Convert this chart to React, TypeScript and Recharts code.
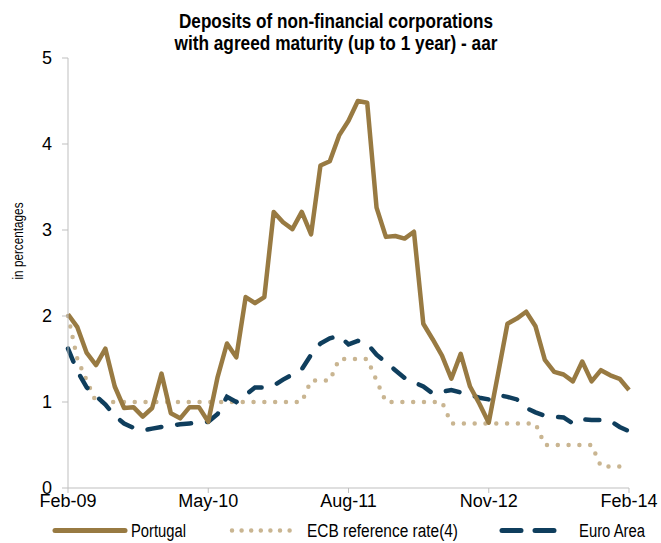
import React from 'react';
import { LineChart, Line, XAxis, YAxis, Legend } from 'recharts';

// monthly observations, Feb-09 .. Feb-14
const months = [
  'Feb-09', 'Mar-09', 'Apr-09', 'May-09', 'Jun-09', 'Jul-09', 'Aug-09', 'Sep-09', 'Oct-09', 'Nov-09', 'Dec-09',
  'Jan-10', 'Feb-10', 'Mar-10', 'Apr-10', 'May-10', 'Jun-10', 'Jul-10', 'Aug-10', 'Sep-10', 'Oct-10', 'Nov-10', 'Dec-10',
  'Jan-11', 'Feb-11', 'Mar-11', 'Apr-11', 'May-11', 'Jun-11', 'Jul-11', 'Aug-11', 'Sep-11', 'Oct-11', 'Nov-11', 'Dec-11',
  'Jan-12', 'Feb-12', 'Mar-12', 'Apr-12', 'May-12', 'Jun-12', 'Jul-12', 'Aug-12', 'Sep-12', 'Oct-12', 'Nov-12', 'Dec-12',
  'Jan-13', 'Feb-13', 'Mar-13', 'Apr-13', 'May-13', 'Jun-13', 'Jul-13', 'Aug-13', 'Sep-13', 'Oct-13', 'Nov-13', 'Dec-13',
  'Jan-14', 'Feb-14',
];

const portugal = [
  2.02, 1.87, 1.57, 1.43, 1.62, 1.18, 0.93, 0.94, 0.83, 0.93,
  1.33, 0.87, 0.81, 0.94, 0.94, 0.77, 1.29, 1.68, 1.52, 2.22,
  2.15, 2.22, 3.21, 3.09, 3.01, 3.21, 2.95, 3.75, 3.8, 4.1,
  4.27, 4.5, 4.48, 3.26, 2.92, 2.93, 2.9, 2.98, 1.91, 1.73,
  1.54, 1.27, 1.56, 1.18, 0.98, 0.76, 1.33, 1.91, 1.97, 2.05,
  1.88, 1.49, 1.35, 1.32, 1.24, 1.47, 1.24, 1.37, 1.31, 1.27, 1.14,
];

const ecbRate = [
  2.0, 1.5, 1.25, 1.0, 1.0, 1.0, 1.0, 1.0, 1.0, 1.0,
  1.0, 1.0, 1.0, 1.0, 1.0, 1.0, 1.0, 1.0, 1.0, 1.0,
  1.0, 1.0, 1.0, 1.0, 1.0, 1.0, 1.25, 1.25, 1.25, 1.5,
  1.5, 1.5, 1.5, 1.25, 1.0, 1.0, 1.0, 1.0, 1.0, 1.0,
  1.0, 0.75, 0.75, 0.75, 0.75, 0.75, 0.75, 0.75, 0.75, 0.75,
  0.75, 0.5, 0.5, 0.5, 0.5, 0.5, 0.5, 0.25, 0.25, 0.25, 0.25,
];

const euroArea = [
  1.62, 1.36, 1.17, 1.07, 0.97, 0.84, 0.75, 0.7, 0.67, 0.69,
  0.71, 0.73, 0.74, 0.75, 0.76, 0.77, 0.86, 1.06, 1.0, 1.08,
  1.17, 1.17, 1.19, 1.26, 1.32, 1.38, 1.55, 1.68, 1.74, 1.77,
  1.67, 1.71, 1.68, 1.55, 1.46, 1.37, 1.28, 1.23, 1.18, 1.1,
  1.12, 1.14, 1.11, 1.08, 1.05, 1.03, 1.08, 1.06, 1.03, 0.93,
  0.88, 0.84, 0.83, 0.82, 0.75, 0.8, 0.79, 0.79, 0.78, 0.71, 0.66,
];

const yTicks = [0, 1, 2, 3, 4, 5];

const data = months.map((m, i) => ({
  month: m,
  portugal: portugal[i],
  ecb: ecbRate[i],
  euro: euroArea[i],
}));

const GOLD = '#987a42';
const TAN = '#c9b591';
const NAVY = '#0f3e5d';
const AXIS = '#bfbfbf';
const ARIAL = '"Liberation Sans", Arial, sans-serif';

// no narrow face installed, so condensed texts are squeezed with textLength
function LegendBox() {
  const txt = { fontFamily: ARIAL, fontSize: 18, fill: '#000', lengthAdjust: 'spacingAndGlyphs' as const };
  return (
    <svg width={661} height={25} style={{ display: 'block' }}>
      <line x1={55} y1={12.5} x2={125} y2={12.5} stroke={GOLD} strokeWidth={5} strokeLinecap="round" />
      <text x={131} y={19} textLength={55} {...txt}>Portugal</text>
      <line x1={232} y1={12.5} x2={290} y2={12.5} stroke={TAN} strokeWidth={4.5} strokeLinecap="round" strokeDasharray="0 9.6" />
      <text x={307} y={19} textLength={151} {...txt}>ECB reference rate(4)</text>
      <line x1={502} y1={12.5} x2={555} y2={12.5} stroke={NAVY} strokeWidth={5} strokeLinecap="round" strokeDasharray="19 14" />
      <text x={579} y={19} textLength={66} {...txt}>Euro Area</text>
    </svg>
  );
}

export default function App() {
  return (
    <div style={{ position: 'absolute', left: 0, top: 0, width: 661, height: 543, background: '#fff', fontFamily: ARIAL }}>
      <svg width={661} height={60} style={{ position: 'absolute', left: 0, top: 0 }}>
        <g fontFamily={ARIAL} fontWeight="bold" fontSize={20} fill="#000" textAnchor="middle">
          <text x={336} y={28} textLength={314} lengthAdjust="spacingAndGlyphs">Deposits of non-financial corporations</text>
          <text x={336} y={50} textLength={323} lengthAdjust="spacingAndGlyphs">with agreed maturity (up to 1 year) - aar</text>
        </g>
      </svg>
      <svg width={40} height={543} style={{ position: 'absolute', left: 0, top: 0 }}>
        <text
          transform="translate(23 241) rotate(-90)"
          textAnchor="middle"
          fontFamily={ARIAL}
          fontSize={15}
          fill="#000"
          textLength={77}
          lengthAdjust="spacingAndGlyphs"
        >
          in percentages
        </text>
      </svg>
      <LineChart width={661} height={543} data={data} margin={{ top: 58, right: 32, bottom: 0, left: 8 }}>
        <XAxis
          dataKey="month"
          interval={14}
          height={30}
          tickSize={5}
          tickMargin={1}
          axisLine={{ stroke: AXIS }}
          tickLine={{ stroke: AXIS }}
          tick={{ fill: '#000', fontSize: 18, fontFamily: ARIAL }}
        />
        <YAxis
          domain={[0, 5]}
          ticks={yTicks}
          interval={0}
          width={60}
          tickSize={6}
          tickMargin={10}
          axisLine={{ stroke: AXIS }}
          tickLine={{ stroke: AXIS }}
          tick={{ fill: '#000', fontSize: 18, fontFamily: ARIAL }}
        />
        <Legend
          verticalAlign="bottom"
          height={25}
          wrapperStyle={{ left: 0, width: 661 }}
          content={() => <LegendBox />}
        />
        <Line
          type="linear"
          dataKey="ecb"
          name="ECB reference rate(4)"
          stroke={TAN}
          strokeWidth={4.5}
          strokeLinecap="round"
          strokeDasharray="0 10.8"
          dot={false}
          isAnimationActive={false}
        />
        <Line
          type="linear"
          dataKey="euro"
          name="Euro Area"
          stroke={NAVY}
          strokeWidth={4.5}
          strokeLinecap="round"
          strokeDasharray="14 16"
          dot={false}
          isAnimationActive={false}
        />
        <Line
          type="linear"
          dataKey="portugal"
          name="Portugal"
          stroke={GOLD}
          strokeWidth={4.5}
          strokeLinejoin="round"
          dot={false}
          isAnimationActive={false}
        />
      </LineChart>
    </div>
  );
}
